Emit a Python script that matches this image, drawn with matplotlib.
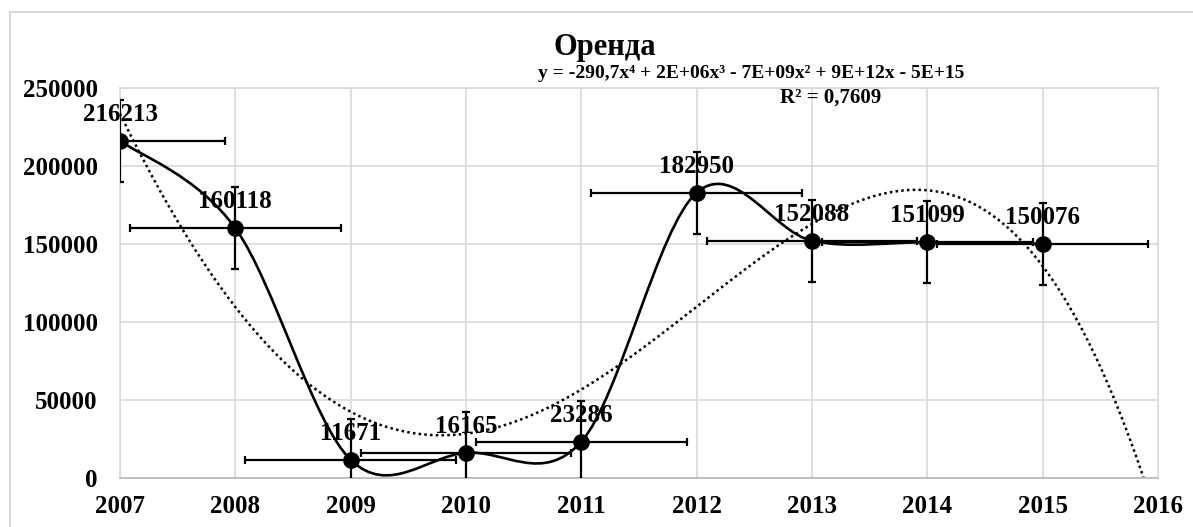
import numpy as np
import matplotlib.pyplot as plt
from matplotlib.path import Path
from matplotlib.patches import PathPatch
from matplotlib.lines import Line2D

years = [2007, 2008, 2009, 2010, 2011, 2012, 2013, 2014, 2015]
values = [216213, 160118, 11671, 16165, 23286, 182950, 152088, 151099, 150076]
x_ticks = [2007, 2008, 2009, 2010, 2011, 2012, 2013, 2014, 2015, 2016]
y_ticks = [0, 50000, 100000, 150000, 200000, 250000]
title = 'Оренда'
eq_text = 'y = -290,7x⁴ + 2E+06x³ - 7E+09x² + 9E+12x - 5E+15'
r2_text = 'R² = 0,7609'

serif = ['Liberation Serif', 'DejaVu Serif']
plt.rcParams['font.family'] = serif
plt.rcParams['font.weight'] = 'bold'

W, H = 1193, 527
fig = plt.figure(figsize=(W / 100, H / 100), dpi=100)
ax = fig.add_axes([120 / W, 1 - 478 / H, (1158 - 120) / W, (478 - 88) / H])

x = np.array(years, dtype=float)
y = np.array(values, dtype=float)

# Excel style "standard error" bars
y_err = y.std(ddof=1) / np.sqrt(len(y))
x_err = x.std(ddof=1) / np.sqrt(len(x))

# smoothed line as bezier segments (Catmull-Rom control points, like Excel)
pts = np.column_stack([x, y])
verts = [pts[0]]
codes = [Path.MOVETO]
n = len(pts)
for i in range(n - 1):
    p_prev = pts[i - 1] if i > 0 else pts[i]
    p_next2 = pts[i + 2] if i + 2 < n else pts[i + 1]
    c1 = pts[i] + (pts[i + 1] - p_prev) / 6
    c2 = pts[i + 1] - (p_next2 - pts[i]) / 6
    verts += [c1, c2, pts[i + 1]]
    codes += [Path.CURVE4] * 3
ax.add_patch(PathPatch(Path(verts, codes), fill=False, edgecolor='black',
                       lw=1.9, zorder=3))

# polynomial trendline (4th order)
coef = np.polyfit(x - 2007, y, 4)
xt = np.linspace(2007, 2016, 300)
ax.plot(xt, np.polyval(coef, xt - 2007), color='black', lw=1.8,
        linestyle=(0, (1, 1.3)), zorder=2)

ax.errorbar(x, y, yerr=y_err, xerr=x_err, fmt='none', ecolor='black',
            elinewidth=1.6, capsize=3, capthick=1.6, zorder=4)
ax.plot(x, y, 'o', color='black', markersize=11, zorder=5)

for xi, yi in zip(years, values):
    ax.annotate(str(yi), (xi, yi), xytext=(0, 19), textcoords='offset points',
                ha='center', va='center', fontsize=18, fontweight='bold',
                zorder=6)

ax.set_xlim(2007, 2016)
ax.set_ylim(0, 250000)
ax.set_xticks(x_ticks)
ax.set_yticks(y_ticks)
ax.set_xticklabels([str(t) for t in x_ticks])
ax.set_yticklabels([str(t) for t in y_ticks])
ax.tick_params(axis='both', length=0, labelsize=18)
ax.tick_params(axis='y', pad=16)
ax.tick_params(axis='x', pad=12)
for lab in ax.get_xticklabels() + ax.get_yticklabels():
    lab.set_fontweight('bold')
ax.grid(True, color='#d9d9d9', lw=1.2)
ax.set_axisbelow(True)
for side in ['left', 'right', 'top']:
    ax.spines[side].set_color('#d9d9d9')
    ax.spines[side].set_linewidth(1.2)
ax.spines['bottom'].set_color('#bfbfbf')
ax.spines['bottom'].set_linewidth(1.4)

fig.text(605 / W, 1 - 48 / H, title, ha='center', va='center',
         fontsize=22, fontweight='bold')
fig.text(751 / W, 1 - 73 / H, eq_text, ha='center', va='center',
         fontsize=14, fontweight='bold', family=serif)
fig.text(831 / W, 1 - 98 / H, r2_text, ha='center', va='center',
         fontsize=15, fontweight='bold', family=serif)

# outer chart frame
fig.add_artist(Line2D([10 / W, 10 / W], [0, 1 - 12 / H], color='#d9d9d9',
                      lw=1.5, transform=fig.transFigure))
fig.add_artist(Line2D([10 / W, 1], [1 - 12 / H, 1 - 12 / H], color='#d9d9d9',
                      lw=1.5, transform=fig.transFigure))

fig.savefig('out.png', dpi=100)
